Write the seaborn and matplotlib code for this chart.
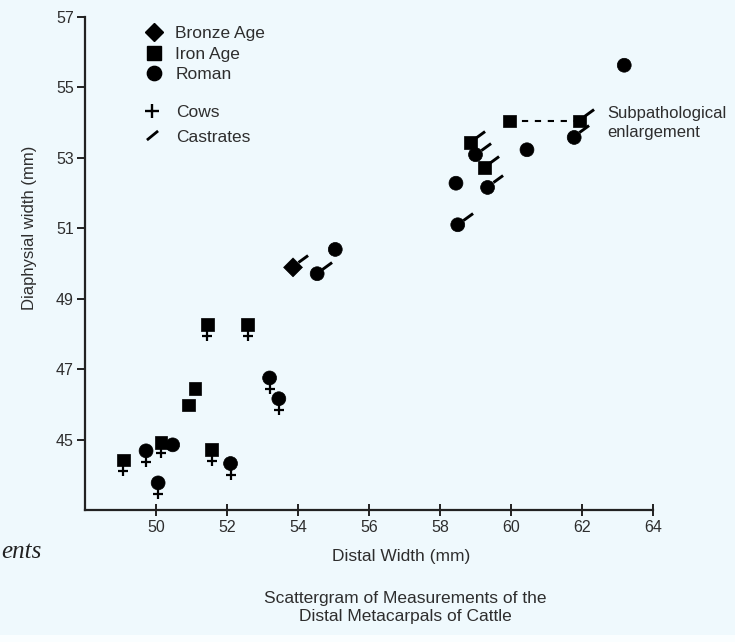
#!/usr/bin/env python3

import numpy as np
import pandas as pd
import matplotlib
matplotlib.use("Agg")
import matplotlib.pyplot as plt
from matplotlib.path import Path
from matplotlib.lines import Line2D
from matplotlib.patches import Rectangle
import seaborn as sns

# data
period = (["Bronze Age"]
          + ["Iron Age"] * 11
          + ["Roman"] * 15)
distal = [53.86,
          49.08, 50.14, 50.92, 51.10, 51.45, 52.58, 51.57, 58.85, 59.25, 59.95, 61.92,
          49.72, 50.47, 50.06, 52.10, 53.20, 53.46, 54.54, 55.05, 58.45, 58.50, 59.00,
          59.34, 60.45, 61.78, 63.19]
diaphysial = [49.89,
              44.42, 44.92, 45.98, 46.46, 48.26, 48.26, 44.71, 53.43, 52.72, 54.05, 54.05,
              44.68, 44.85, 43.77, 44.32, 46.75, 46.16, 49.71, 50.40, 52.28, 51.10, 53.09,
              52.16, 53.23, 53.58, 55.63]
sex = ["castrate",
       "cow", "cow", "", "", "cow", "cow", "cow", "castrate", "castrate", "", "castrate",
       "cow", "", "cow", "cow", "cow", "cow", "castrate", "", "", "castrate", "castrate",
       "castrate", "", "castrate", ""]
# the two Iron Age points joined by the dashed line
enlarged = [False] * 10 + [True, True] + [False] * 15

x_ticks = [50, 52, 54, 56, 58, 60, 62, 64]
y_ticks = [45, 47, 49, 51, 53, 55, 57]

df = pd.DataFrame({"period": period, "distal": distal, "diaphysial": diaphysial,
                   "sex": sex, "enlarged": enlarged})

bg = "#EFF9FD"
ink = "#2E2E2E"

sns.set_theme(style="ticks")
plt.rcParams["font.family"] = ["Liberation Sans", "DejaVu Sans"]
plt.rcParams["text.color"] = ink
plt.rcParams["axes.labelcolor"] = ink
plt.rcParams["xtick.color"] = "#222222"
plt.rcParams["ytick.color"] = "#222222"

fig = plt.figure(figsize=(7.35, 6.42), dpi=100, facecolor=bg)
ax = fig.add_axes([85 / 735, 1 - 510 / 642, 568 / 735, 493 / 642])
ax.set_facecolor(bg)

# offset markers for the sex symbols (plus below, slash up-right)
plus_path = Path([(-0.33, -0.68), (0.33, -0.68), (0, -0.36), (0, -1.0)],
                 [Path.MOVETO, Path.LINETO, Path.MOVETO, Path.LINETO])
slash_path = Path([(0.34, 0.34), (1.0, 0.82)], [Path.MOVETO, Path.LINETO])

pair = df[df.enlarged]
ax.plot(pair.distal, pair.diaphysial, color="black", lw=1.5,
        ls=(0, (3.0, 3.2)), zorder=1)

sns.scatterplot(data=df[df.sex == "cow"], x="distal", y="diaphysial",
                marker=plus_path, s=540, color="black", edgecolor="black",
                linewidth=1.6, legend=False, ax=ax, zorder=2)
sns.scatterplot(data=df[df.sex == "castrate"], x="distal", y="diaphysial",
                marker=slash_path, s=440, color="black", edgecolor="black",
                linewidth=2.1, legend=False, ax=ax, zorder=2)

sns.scatterplot(data=df, x="distal", y="diaphysial", style="period", size="period",
                markers={"Bronze Age": "D", "Iron Age": "s", "Roman": "o"},
                sizes={"Bronze Age": 92, "Iron Age": 84, "Roman": 100},
                color="black", edgecolor="black", linewidth=0.5,
                legend=False, ax=ax, zorder=3)

ax.text(62.7, 54.0, "Subpathological\nenlargement", fontsize=12, color=ink,
        ha="left", va="center", linespacing=1.35)

ax.set_xlim(48, 64)
ax.set_ylim(43, 57)
ax.set_xticks(x_ticks)
ax.set_yticks(y_ticks)
ax.tick_params(axis="x", direction="inout", length=9, width=1.4, labelsize=11.5, pad=3)
ax.tick_params(axis="y", direction="out", length=6, width=1.4, labelsize=11.5, pad=2)
for lab in ax.get_xticklabels() + ax.get_yticklabels():
    lab.set_color(ink)
sns.despine(ax=ax)
for side in ["left", "bottom"]:
    ax.spines[side].set_linewidth(1.6)
    ax.spines[side].set_color("#222222")

ax.set_xlabel("Distal Width (mm)", fontsize=12.5)
ax.xaxis.label.set_va("center")
ax.xaxis.set_label_coords((401 - 85) / 568, -(556 - 510) / 493)
ax.set_ylabel("Diaphysial width (mm)", fontsize=12)
ax.yaxis.label.set_va("center")
ax.yaxis.set_label_coords((30 - 85) / 568, (510 - 228) / 493)

# legends
period_handles = [
    Line2D([], [], ls="none", marker="D", ms=9.5, color="black"),
    Line2D([], [], ls="none", marker="s", ms=9.6, color="black"),
    Line2D([], [], ls="none", marker="o", ms=10.3, color="black"),
]
leg1 = ax.legend(period_handles, ["Bronze Age", "Iron Age", "Roman"],
                 loc="upper left", bbox_to_anchor=(144 / 735, 1 - 26 / 642),
                 bbox_transform=fig.transFigure, frameon=False, fontsize=12.5,
                 handlelength=1.2, handletextpad=0.6, labelspacing=0.31,
                 borderpad=0, borderaxespad=0)
ax.add_artist(leg1)

slash_legend = Path([(-1.0, -0.82), (1.0, 0.82)], [Path.MOVETO, Path.LINETO])
sex_handles = [
    Line2D([], [], ls="none", marker="+", ms=10, mew=1.7, color="black"),
    Line2D([], [], ls="none", marker=slash_legend, ms=8, mew=2.0, color="black"),
]
ax.legend(sex_handles, ["Cows", "Castrates"],
          loc="upper left", bbox_to_anchor=(142 / 735, 1 - 105 / 642),
          bbox_transform=fig.transFigure, frameon=False, fontsize=12.5,
          handlelength=1.2, handletextpad=0.75, labelspacing=0.53,
          borderpad=0, borderaxespad=0)

fig.text(405 / 735, 1 - 607.5 / 642,
         "Scattergram of Measurements of the\nDistal Metacarpals of Cattle",
         ha="center", va="center", fontsize=12.5, linespacing=1.3, color=ink)

# word fragment from the neighbouring page text
fig.text(1 / 735, 1 - 552 / 642, "ents", ha="left", va="center", fontsize=18,
         style="italic", family=["Liberation Serif", "DejaVu Serif"], color="#222222")

fig.add_artist(Rectangle((0, 0), 1, 7 / 642, transform=fig.transFigure,
                         color="#FAFEFF", lw=0))

fig.savefig("out.png", dpi=100, facecolor=bg)
